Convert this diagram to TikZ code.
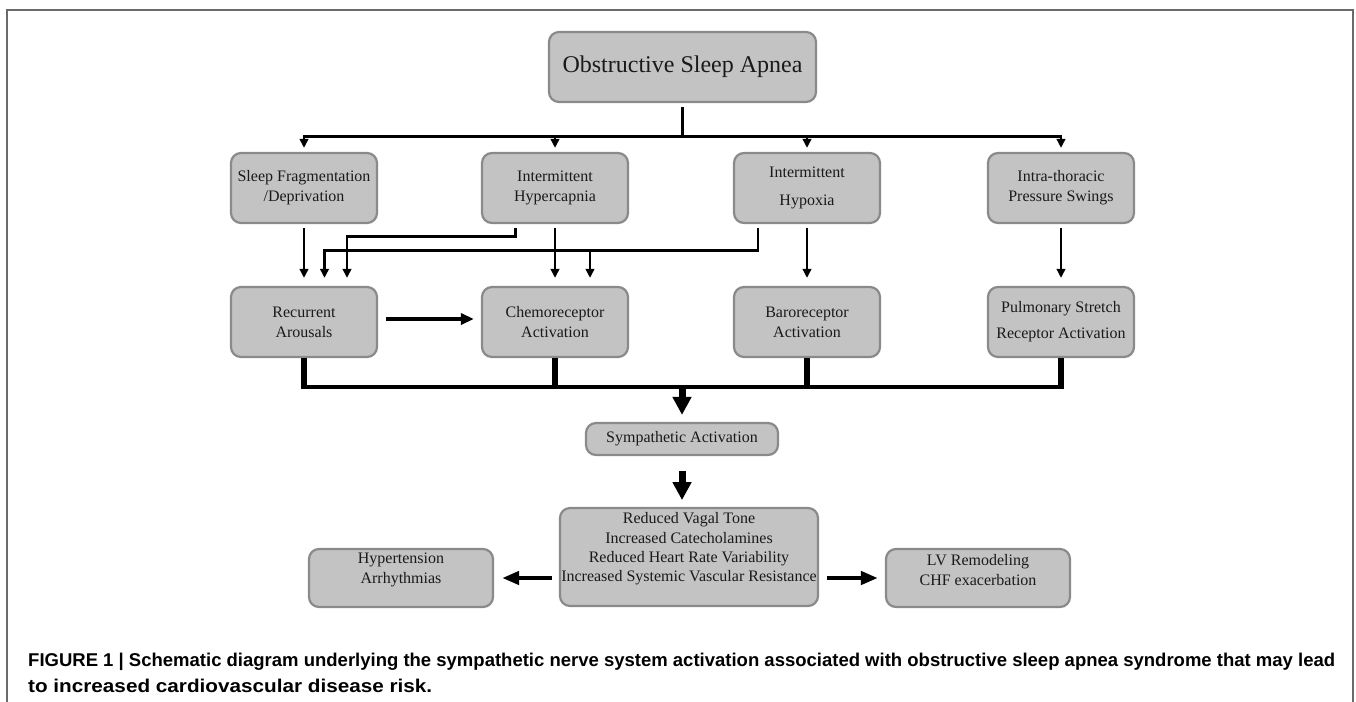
\documentclass[tikz,border=0pt]{standalone}
\usepackage{fontspec}
\usepackage{graphicx}
\setmainfont{Liberation Serif}
\newfontfamily\capfont{Liberation Sans}
\usetikzlibrary{arrows.meta}
\definecolor{boxfill}{HTML}{C3C3C3}
\definecolor{boxedge}{HTML}{8A8A8A}
\definecolor{framec}{HTML}{6A6A6A}
\definecolor{textc}{HTML}{1A1A1A}
\begin{document}
\begin{tikzpicture}[x=1pt,y=-1pt,
  box/.style={draw=boxedge, fill=boxfill, line width=2.2pt, rounded corners=10pt,
    align=center, inner sep=0pt, text=textc, font=\fontsize{16}{20}\selectfont},
  rowbox/.style={box, minimum width=146pt, minimum height=70pt},
  txt/.style={align=center, inner sep=0pt, text=textc, font=\fontsize{16}{19.3}\selectfont},
  ln/.style={line width=2.8pt},
  arr/.style={line width=2.8pt, -{Triangle[width=8.5pt,length=9pt]}},
  midarr/.style={line width=4pt, -{Triangle[width=11pt,length=13pt]}},
  sidearr/.style={line width=4.5pt, -{Triangle[width=13pt,length=17pt]}},
  bigarr/.style={line width=7pt, -{Triangle[width=18pt,length=18pt]}},
  thk/.style={line width=6pt},
  busl/.style={line width=3.5pt},
  capline/.style={anchor=base west, inner sep=0pt, text=black,
    font=\capfont\bfseries\fontsize{18.5}{22}\selectfont}
]
\useasboundingbox (0,0) rectangle (1356,701);
\draw[framec, line width=1.5pt] (7,703) -- (7,10) -- (1353,10) -- (1353,703);

% top
\node[box, minimum width=267pt, minimum height=70pt, font=\fontsize{24}{28}\selectfont] (osa) at (682.5,67) {Obstructive Sleep Apnea};

% row 1
\node[rowbox] (sf) at (304,188) {Sleep Fragmentation\\/Deprivation};
\node[rowbox] (ih) at (555,188) {Intermittent\\Hypercapnia};
\node[rowbox] (ix) at (807,188) {Intermittent\\[8pt]Hypoxia};
\node[rowbox] (it) at (1061,188) {Intra-thoracic\\Pressure Swings};

% row 2
\node[rowbox] (ra) at (304,322) {Recurrent\\Arousals};
\node[rowbox] (ca) at (555,322) {Chemoreceptor\\Activation};
\node[rowbox] (ba) at (807,322) {Baroreceptor\\Activation};
\node[rowbox] (ps) at (1061,322) {Pulmonary Stretch\\[6pt]Receptor Activation};

% sympathetic
\node[box, minimum width=192pt, minimum height=32pt] (sa) at (682,439) {Sympathetic Activation};

% effects
\node[box, minimum width=258pt, minimum height=98pt,
  label={[txt,yshift=8pt]center:{Reduced Vagal Tone\\Increased Catecholamines\\Reduced Heart Rate Variability\\Increased Systemic Vascular Resistance}}] (eff) at (689,557) {};
\node[box, minimum width=184pt, minimum height=58pt,
  label={[txt,yshift=8pt]center:{Hypertension\\Arrhythmias}}] (hyp) at (401,578) {};
\node[box, minimum width=184pt, minimum height=58pt,
  label={[txt,yshift=8pt]center:{LV Remodeling\\CHF exacerbation}}] (lv) at (978,578) {};

% OSA distribution
\path (osa.south) ++(0,33) coordinate (j0);
\draw[ln] ([yshift=-4pt]osa.south) -- (j0);
\draw[arr] (j0) -| ([yshift=4pt]sf.north);
\draw[arr] (j0) -| ([yshift=4pt]it.north);
\draw[arr] (ih.north |- j0) -- ([yshift=4pt]ih.north);
\draw[arr] (ix.north |- j0) -- ([yshift=4pt]ix.north);

% row1 -> row2
\draw[arr] ([yshift=-4pt]sf.south) -- ([yshift=8pt]ra.north);
\draw[arr] ([xshift=-39.4pt,yshift=-4pt]ih.south) -- ++(0,8) -| ([xshift=43pt,yshift=8pt]ra.north);
\draw[arr] ([yshift=-4pt]ih.south) -- ([yshift=8pt]ca.north);
\draw[arr] ([xshift=-49pt,yshift=-4pt]ix.south) -- ++(0,22) coordinate (hb) -| ([xshift=20.5pt,yshift=8pt]ra.north);
\path ([xshift=35pt]ca.north) coordinate (bx);
\draw[arr] (bx |- hb) -- ([yshift=8pt]bx);
\draw[arr] ([yshift=-4pt]ix.south) -- ([yshift=8pt]ba.north);
\draw[arr] ([yshift=-4pt]it.south) -- ([yshift=8pt]ps.north);

% recurrent -> chemo
\draw[midarr] ([xshift=8pt,yshift=3pt]ra.east) -- ([xshift=-7pt,yshift=3pt]ca.west);

% row2 -> bus
\path (ra.south) ++(0,29) coordinate (bus0);
\foreach \n in {ra,ca,ba,ps} \draw[thk] (\n.south) -- ([yshift=-1.75pt]\n.south |- bus0);
\draw[busl, shorten <=-3pt, shorten >=-3pt] (ra.south |- bus0) -- (ps.south |- bus0);

% big arrows
\draw[bigarr] (sa.north |- bus0) -- ([yshift=7pt]sa.north);
\draw[bigarr] ([yshift=-15pt]sa.south) -- ++(0,29);

% side arrows
\path (eff.west |- hyp.east) coordinate (lw);
\path (eff.east |- lv.west) coordinate (le);
\draw[sidearr] ([xshift=-7pt]lw) -- ([xshift=8pt]hyp.east);
\draw[sidearr] ([xshift=8pt]le) -- ([xshift=-7pt]lv.west);

% caption
\node[capline] (cap1) at (28,666) {\resizebox{1307pt}{\height}{FIGURE 1 | Schematic diagram underlying the sympathetic nerve system activation associated with obstructive sleep apnea syndrome that may lead}};
\node[capline] (cap2) at (28,692) {\resizebox{404pt}{\height}{to increased cardiovascular disease risk.}};
\end{tikzpicture}
\end{document}
